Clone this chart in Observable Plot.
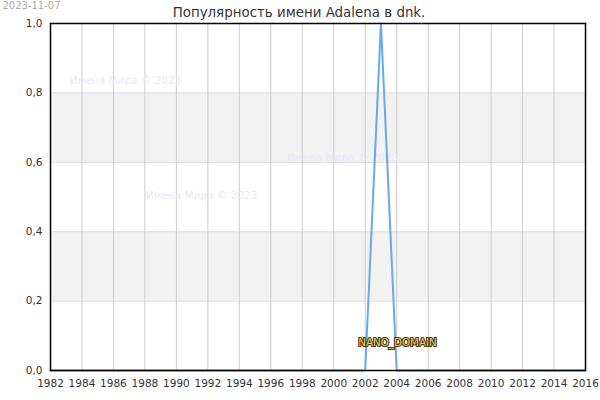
<!DOCTYPE html>
<html><head><meta charset="utf-8">
<script src="https://cdn.jsdelivr.net/npm/d3@7"></script>
<script src="https://cdn.jsdelivr.net/npm/@observablehq/plot@0.6"></script>
<style>body{margin:0;background:#fff}</style>
</head><body><div id="chart"></div>
<script>
const years = d3.range(1982, 2017);
const values = years.map(y => y === 2003 ? 1 : 0);
const xTicks = d3.range(1982, 2017, 2);
const yTicks = [0, 0.2, 0.4, 0.6, 0.8, 1.0];
const bands = [[0.2, 0.4], [0.6, 0.8]];
const title = "Популярность имени Adalena в dnk.";
const dateText = "2023-11-07";
const watermark = "Имена Мира © 2023";

const data = years.map((y, i) => ({year: y, value: values[i]}));
const fmt = d => d3.format(".1f")(d).replace(".", ",");

const chart = Plot.plot({
  width: 600, height: 400,
  marginLeft: 50, marginRight: 15, marginTop: 23, marginBottom: 30,
  style: {fontFamily: "DejaVu Sans", fontSize: "10px", color: "#333", background: "#fff"},
  x: {domain: [1982, 2016], ticks: xTicks, tickFormat: d => String(d), tickSize: 0, tickPadding: 6, label: null},
  y: {domain: [0, 1], ticks: yTicks, tickFormat: fmt, tickSize: 0, tickPadding: 6, label: null},
  marks: [
    Plot.rectY(bands, {x1: 1982, x2: 2016, y1: d => d[0], y2: d => d[1], fill: "#f2f2f2"}),
    Plot.ruleY(yTicks, {stroke: "#dddddd", strokeWidth: 1}),
    Plot.ruleX(xTicks, {stroke: "#cccccc", strokeWidth: 1}),
    Plot.text([watermark], {frameAnchor: "top-left", dx: 75, dy: 53, fill: "#e8e8f8", fontSize: 10.5, textAnchor: "middle"}),
    Plot.text([watermark], {frameAnchor: "top-left", dx: 292, dy: 130, fill: "#e8e8f8", fontSize: 10.5, textAnchor: "middle"}),
    Plot.text([watermark], {frameAnchor: "top-left", dx: 151, dy: 168, fill: "#e8e8f8", fontSize: 10.5, textAnchor: "middle"}),
    Plot.line(data, {x: "year", y: "value", stroke: "#66aaee", strokeWidth: 2}),
    Plot.frame({stroke: "#000", strokeWidth: 1.5}),
    Plot.axisX({ticks: xTicks, tickFormat: d => String(d), tickSize: 0, tickPadding: 9, fontSize: 10.5}),
    Plot.axisY({ticks: yTicks, tickFormat: fmt, tickSize: 0, tickPadding: 8, fontSize: 10.5}),
    Plot.text(["NANO_DOMAIN"], {frameAnchor: "top-left", dx: 347, dy: 315, fill: "#e8cf6a", stroke: "#4a3b10", strokeWidth: 2.2, paintOrder: "stroke", fontSize: 10.3, textAnchor: "middle"}),
    Plot.text([title], {frameAnchor: "top", dx: -19, dy: -16, fontSize: 13.4, fill: "#333"}),
    Plot.text([dateText], {frameAnchor: "top-left", dx: -19, dy: -22, fontSize: 10, fill: "#aaaaaa", textAnchor: "middle"})
  ]
});
document.getElementById("chart").appendChild(chart);
</script></body></html>
